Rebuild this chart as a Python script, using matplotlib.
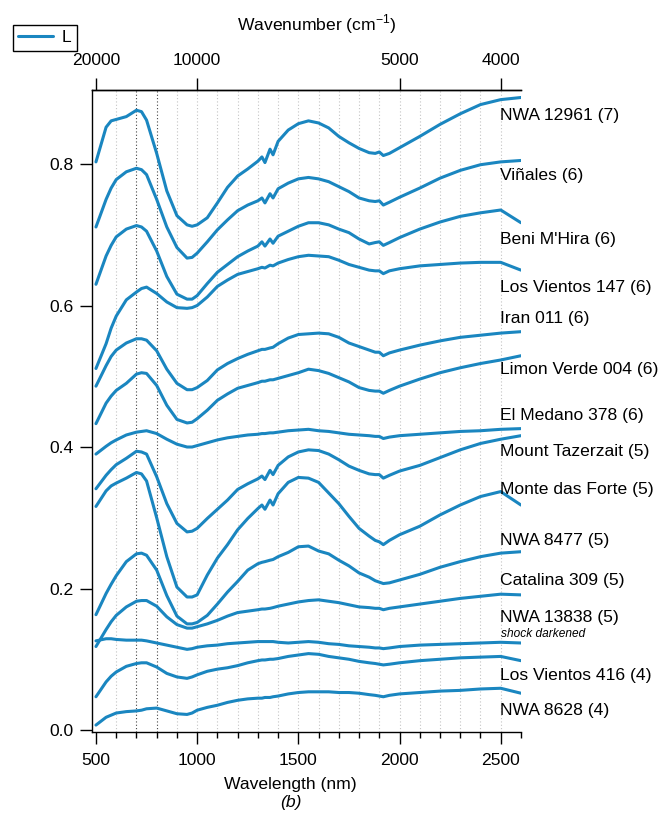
import numpy as np
import matplotlib
matplotlib.use('Agg')
import matplotlib.pyplot as plt
from matplotlib.ticker import MultipleLocator, NullLocator

plt.rcParams['font.family'] = ['Liberation Sans', 'DejaVu Sans']
plt.rcParams['mathtext.fontset'] = 'custom'
plt.rcParams['mathtext.rm'] = 'Liberation Sans'

# wavelength grid (nm) the spectra were read at
wavelength = [500, 550, 575, 600, 650, 700, 725, 750, 800, 850, 900, 950, 975,
              1000, 1050, 1100, 1150, 1200, 1250, 1300, 1320, 1335, 1360,
              1375, 1400, 1450, 1500, 1550, 1600, 1650, 1700, 1750, 1800,
              1850, 1880, 1900, 1920, 1950, 2000, 2100, 2200, 2300, 2400,
              2500, 2600]

nwa_12961 = [0.803, 0.852, 0.861, 0.863, 0.867, 0.876, 0.874, 0.862, 0.815, 0.762, 0.727, 0.714, 0.712,
             0.714, 0.724, 0.745, 0.767, 0.783, 0.793, 0.804, 0.810, 0.802, 0.821,
             0.813, 0.832, 0.848, 0.857, 0.861, 0.858, 0.851, 0.839, 0.830, 0.822,
             0.816, 0.815, 0.817, 0.812, 0.815, 0.823, 0.839, 0.856, 0.871, 0.884,
             0.891, 0.894]
vinales = [0.711, 0.750, 0.766, 0.778, 0.789, 0.794, 0.792, 0.785, 0.750, 0.711, 0.682, 0.667, 0.668,
           0.674, 0.690, 0.707, 0.721, 0.734, 0.742, 0.748, 0.752, 0.745, 0.758,
           0.752, 0.765, 0.773, 0.779, 0.781, 0.779, 0.775, 0.768, 0.761, 0.752,
           0.748, 0.747, 0.748, 0.742, 0.746, 0.753, 0.766, 0.780, 0.791, 0.799,
           0.803, 0.805]
beni_mhira = [0.630, 0.670, 0.685, 0.697, 0.708, 0.713, 0.711, 0.705, 0.677, 0.641, 0.616, 0.609, 0.609,
              0.614, 0.631, 0.647, 0.658, 0.669, 0.677, 0.684, 0.690, 0.684, 0.694,
              0.688, 0.698, 0.705, 0.712, 0.717, 0.717, 0.714, 0.708, 0.703, 0.694,
              0.687, 0.689, 0.690, 0.685, 0.689, 0.696, 0.708, 0.718, 0.726, 0.731,
              0.735, 0.717]
los_vientos_147 = [0.511, 0.546, 0.568, 0.585, 0.608, 0.619, 0.624, 0.626, 0.617, 0.605, 0.597, 0.596, 0.597,
                   0.600, 0.612, 0.627, 0.636, 0.644, 0.648, 0.652, 0.654, 0.653, 0.657,
                   0.656, 0.660, 0.665, 0.669, 0.671, 0.670, 0.669, 0.664, 0.658, 0.654,
                   0.650, 0.649, 0.649, 0.645, 0.649, 0.652, 0.656, 0.658, 0.660, 0.661,
                   0.661, 0.650]
iran_011 = [0.486, 0.515, 0.528, 0.537, 0.547, 0.553, 0.553, 0.551, 0.536, 0.510, 0.490, 0.481, 0.481,
            0.484, 0.494, 0.509, 0.518, 0.525, 0.531, 0.536, 0.538, 0.538, 0.540,
            0.541, 0.546, 0.554, 0.559, 0.560, 0.561, 0.560, 0.555, 0.547, 0.542,
            0.537, 0.534, 0.534, 0.529, 0.533, 0.537, 0.544, 0.550, 0.555, 0.558,
            0.561, 0.563]
limon_verde_004 = [0.433, 0.462, 0.472, 0.480, 0.490, 0.503, 0.505, 0.504, 0.487, 0.459, 0.439, 0.434, 0.435,
                   0.440, 0.452, 0.466, 0.475, 0.483, 0.487, 0.491, 0.493, 0.493, 0.495,
                   0.495, 0.497, 0.501, 0.505, 0.510, 0.508, 0.504, 0.498, 0.492, 0.484,
                   0.480, 0.479, 0.479, 0.476, 0.480, 0.486, 0.496, 0.505, 0.512, 0.518,
                   0.523, 0.529]
el_medano_378 = [0.390, 0.401, 0.406, 0.410, 0.417, 0.421, 0.422, 0.423, 0.419, 0.411, 0.404, 0.400, 0.400,
                 0.402, 0.406, 0.410, 0.413, 0.415, 0.417, 0.418, 0.419, 0.419, 0.420,
                 0.420, 0.421, 0.423, 0.424, 0.425, 0.423, 0.422, 0.420, 0.418, 0.417,
                 0.416, 0.415, 0.415, 0.412, 0.414, 0.416, 0.418, 0.420, 0.422, 0.423,
                 0.425, 0.426]
mount_tazerzait = [0.341, 0.360, 0.368, 0.375, 0.384, 0.394, 0.393, 0.390, 0.358, 0.320, 0.292, 0.280, 0.281,
                   0.285, 0.299, 0.312, 0.325, 0.340, 0.348, 0.355, 0.359, 0.354, 0.367,
                   0.361, 0.374, 0.386, 0.393, 0.396, 0.395, 0.390, 0.382, 0.373, 0.367,
                   0.362, 0.361, 0.361, 0.356, 0.360, 0.366, 0.374, 0.385, 0.396, 0.405,
                   0.411, 0.416]
monte_das_forte = [0.316, 0.338, 0.345, 0.349, 0.356, 0.364, 0.362, 0.352, 0.300, 0.245, 0.202, 0.188, 0.188,
                   0.191, 0.219, 0.243, 0.262, 0.283, 0.299, 0.313, 0.318, 0.312, 0.325,
                   0.318, 0.334, 0.350, 0.357, 0.356, 0.350, 0.335, 0.320, 0.302, 0.285,
                   0.274, 0.268, 0.266, 0.262, 0.268, 0.276, 0.288, 0.304, 0.318, 0.330,
                   0.337, 0.318]
nwa_8477 = [0.163, 0.193, 0.206, 0.218, 0.238, 0.249, 0.250, 0.247, 0.226, 0.190, 0.161, 0.150, 0.150,
            0.152, 0.162, 0.178, 0.195, 0.210, 0.226, 0.235, 0.237, 0.238, 0.240,
            0.241, 0.245, 0.251, 0.259, 0.260, 0.253, 0.249, 0.240, 0.232, 0.222,
            0.216, 0.211, 0.209, 0.207, 0.208, 0.212, 0.220, 0.230, 0.238, 0.245,
            0.250, 0.252]
catalina_309 = [0.118, 0.142, 0.153, 0.162, 0.174, 0.182, 0.183, 0.183, 0.175, 0.160, 0.149, 0.144, 0.144,
                0.146, 0.150, 0.155, 0.161, 0.166, 0.168, 0.170, 0.171, 0.171, 0.172,
                0.173, 0.175, 0.178, 0.181, 0.183, 0.184, 0.182, 0.180, 0.177, 0.174,
                0.173, 0.172, 0.172, 0.170, 0.172, 0.174, 0.178, 0.182, 0.186, 0.189,
                0.192, 0.191]
nwa_13838 = [0.126, 0.129, 0.129, 0.128, 0.127, 0.127, 0.127, 0.126, 0.123, 0.120, 0.117, 0.114, 0.115,
             0.117, 0.119, 0.120, 0.122, 0.123, 0.124, 0.125, 0.125, 0.125, 0.125,
             0.125, 0.124, 0.123, 0.124, 0.125, 0.124, 0.122, 0.121, 0.119, 0.118,
             0.117, 0.116, 0.116, 0.115, 0.116, 0.118, 0.120, 0.121, 0.122, 0.123,
             0.124, 0.123]
los_vientos_416 = [0.047, 0.068, 0.076, 0.082, 0.090, 0.094, 0.095, 0.095, 0.089, 0.080, 0.075, 0.073, 0.075,
                   0.078, 0.083, 0.086, 0.088, 0.091, 0.095, 0.098, 0.099, 0.099, 0.100,
                   0.100, 0.101, 0.104, 0.106, 0.108, 0.107, 0.104, 0.102, 0.100, 0.097,
                   0.095, 0.094, 0.093, 0.092, 0.093, 0.095, 0.098, 0.100, 0.102, 0.103,
                   0.104, 0.098]
nwa_8628 = [0.007, 0.018, 0.021, 0.024, 0.026, 0.027, 0.028, 0.030, 0.031, 0.027, 0.023, 0.022, 0.024,
            0.028, 0.032, 0.035, 0.039, 0.042, 0.044, 0.045, 0.045, 0.046, 0.046,
            0.047, 0.048, 0.051, 0.053, 0.054, 0.054, 0.054, 0.053, 0.053, 0.052,
            0.050, 0.049, 0.048, 0.047, 0.049, 0.051, 0.053, 0.055, 0.056, 0.058,
            0.059, 0.052]

spectra = [nwa_12961, vinales, beni_mhira, los_vientos_147, iran_011,
           limon_verde_004, el_medano_378, mount_tazerzait, monte_das_forte,
           nwa_8477, catalina_309, nwa_13838, los_vientos_416, nwa_8628]

# right-hand labels and the reflectance level they sit at
labels = ['NWA 12961 (7)', 'Viñales (6)', "Beni M'Hira (6)", 'Los Vientos 147 (6)',
          'Iran 011 (6)', 'Limon Verde 004 (6)', 'El Medano 378 (6)',
          'Mount Tazerzait (5)', 'Monte das Forte (5)', 'NWA 8477 (5)',
          'Catalina 309 (5)', 'NWA 13838 (5)', 'Los Vientos 416 (4)', 'NWA 8628 (4)']
label_y = [0.869, 0.784, 0.694, 0.626, 0.581, 0.509, 0.444, 0.394, 0.340,
           0.268, 0.211, 0.159, 0.077, 0.028]

blue = '#1a86c0'
fs = 12.6

fig = plt.figure(figsize=(6.69, 8.16), dpi=100)
ax = fig.add_axes([0.1371, 0.1033, 0.6416, 0.7864])

# dotted guide lines every 100 nm
for x in range(600, 2600, 100):
    dark = x in (700, 800)
    ax.axvline(x, color='#444444' if dark else '#c4c4c4', lw=0.8,
               ls=(0, (1, 2)), zorder=0)

for i, s in enumerate(spectra):
    ax.plot(wavelength, s, color=blue, lw=2.2, solid_joinstyle='round',
            solid_capstyle='round', label='L' if i == 0 else '_nolegend_')

for name, y in zip(labels, label_y):
    ax.text(2497, y, name, fontsize=fs, ha='left', va='center', clip_on=False)
ax.text(2503, 0.135, 'shock darkened', fontsize=8.6, style='italic',
        ha='left', va='center', clip_on=False)

ax.set_xlim(479, 2600)
ax.set_ylim(-0.0024, 0.9046)
ax.set_xticks([500, 1000, 1500, 2000, 2500])
ax.xaxis.set_minor_locator(MultipleLocator(100))
ax.set_yticks([0.0, 0.2, 0.4, 0.6, 0.8])
ax.set_yticklabels(['0.0', '0.2', '0.4', '0.6', '0.8'])
ax.yaxis.set_minor_locator(NullLocator())

ax.spines['right'].set_visible(False)
for sp in ('left', 'bottom', 'top'):
    ax.spines[sp].set_linewidth(1.0)
ax.tick_params(axis='x', which='major', length=8.6, width=1.0, labelsize=fs, pad=7)
ax.tick_params(axis='x', which='minor', length=4.3, width=1.0)
ax.tick_params(axis='y', which='major', length=8.6, width=1.0, labelsize=fs, pad=4.5)
ax.tick_params(top=False, right=False, which='both')


def inv(x):
    x = np.asarray(x, dtype=float)
    with np.errstate(divide='ignore'):
        return 1e7 / x


sec = ax.secondary_xaxis('top', functions=(inv, inv))
sec.set_xticks([20000, 10000, 5000, 4000])
sec.set_xticklabels(['20000', '10000', '5000', '4000'])
sec.xaxis.set_minor_locator(NullLocator())
sec.tick_params(length=8.6, width=1.0, labelsize=fs, pad=7.5)
sec.spines['top'].set_linewidth(1.0)

fig.text(290 / 669, 1 - 784 / 816, 'Wavelength (nm)', fontsize=fs,
         ha='center', va='center')
fig.text(291 / 669, 1 - 803 / 816, '(b)', fontsize=fs, style='italic',
         ha='center', va='center')
fig.text(317 / 669, 1 - 24 / 816, r'Wavenumber (cm$^{\mathrm{-1}}$)', fontsize=fs,
         ha='center', va='center')

leg = ax.legend(loc='upper left', bbox_to_anchor=(12.8 / 669, 1 - 25 / 816),
                bbox_transform=fig.transFigure, frameon=True, fancybox=False,
                edgecolor='black', framealpha=1, fontsize=fs, handlelength=2.0,
                handletextpad=0.5, borderpad=0.3, borderaxespad=0)
leg.get_frame().set_linewidth(1.0)

fig.savefig('out.png', dpi=100)
